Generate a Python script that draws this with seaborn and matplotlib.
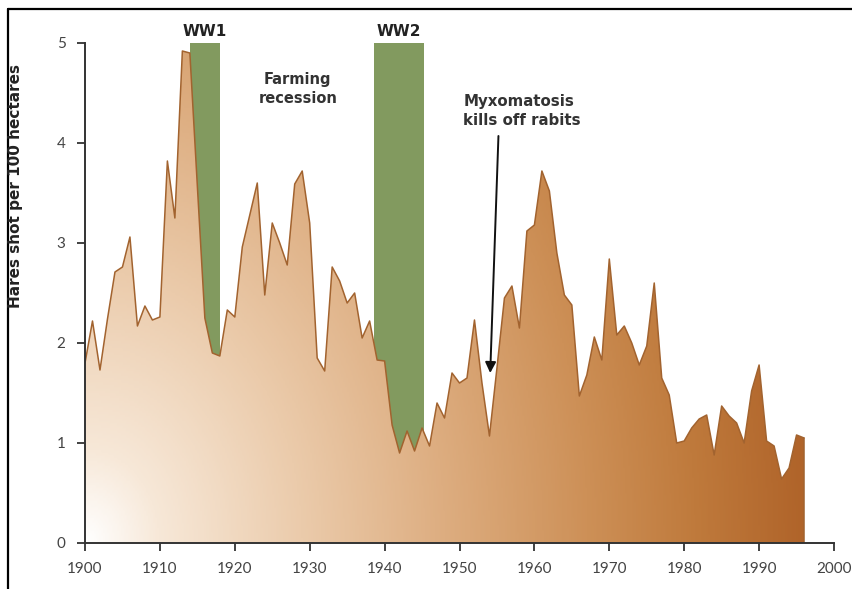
import matplotlib
matplotlib.use("Agg")
import matplotlib.pyplot as plt
from matplotlib.colors import LinearSegmentedColormap
from matplotlib.lines import Line2D
import seaborn as sns
import numpy as np
import pandas as pd

# Hares shot per 100 hectares, 1900-1996
years = list(range(1900, 1997))
hares = [1.80, 2.22, 1.73, 2.24, 2.71, 2.76, 3.06, 2.17, 2.37, 2.23,
         2.26, 3.82, 3.25, 4.92, 4.90, 3.57, 2.25, 1.90, 1.87, 2.33,
         2.26, 2.96, 3.28, 3.60, 2.48, 3.20, 3.00, 2.78, 3.59, 3.72,
         3.20, 1.85, 1.72, 2.76, 2.62, 2.40, 2.50, 2.05, 2.22, 1.83,
         1.82, 1.18, 0.90, 1.12, 0.92, 1.15, 0.97, 1.40, 1.25, 1.70,
         1.60, 1.65, 2.23, 1.60, 1.07, 1.75, 2.45, 2.57, 2.15, 3.12,
         3.18, 3.72, 3.52, 2.90, 2.48, 2.38, 1.47, 1.68, 2.06, 1.83,
         2.84, 2.08, 2.17, 2.00, 1.78, 1.97, 2.60, 1.65, 1.48, 1.00,
         1.02, 1.15, 1.24, 1.28, 0.88, 1.37, 1.27, 1.20, 1.00, 1.52,
         1.78, 1.02, 0.97, 0.64, 0.75, 1.08, 1.05]

war_labels = ['WW1', 'WW2']
war_start = [1914, 1938.6]
war_end = [1918, 1945.2]

x_ticks = list(range(1900, 2001, 10))
y_ticks = [0, 1, 2, 3, 4, 5]

df = pd.DataFrame({'year': years, 'hares': hares})

sns.set_theme(style='ticks')
plt.rcParams['font.family'] = ['Lato', 'DejaVu Sans']
bold_font = ['DejaVu Sans']

fig = plt.figure(figsize=(8.52, 5.89), dpi=100)
ax = fig.add_axes([85 / 852, 1 - 543 / 589, (834 - 85) / 852, 500 / 589])

# war periods behind the data
for lab, s, e in zip(war_labels, war_start, war_end):
    ax.axvspan(s, e, ymin=0, ymax=1, color='#829a5f', lw=0, zorder=1)
    ax.text((s + e) / 2, 5.04, lab, ha='center', va='bottom', family=bold_font,
            fontsize=11, fontweight='bold', color='#222222')

# gradient-filled area
poly = ax.fill_between(df['year'], df['hares'], 0, color='none', lw=0)
gx = np.linspace(0, 1, 400)
gy = np.linspace(0, 1, 200)
GX, GY = np.meshgrid(gx, gy)
dist = np.clip(np.sqrt(GX ** 2 + (GY * 0.55) ** 2), 0, 1)
cmap = LinearSegmentedColormap.from_list('hare', [
    (0.0, '#ffffff'), (0.1, '#f7e8d8'), (0.3, '#ebcbab'),
    (0.5, '#ddad80'), (0.7, '#cd9057'), (0.85, '#bf7a3c'), (1.0, '#b0642a')])
im = ax.imshow(dist, cmap=cmap, origin='lower', aspect='auto',
               extent=[years[0], years[-1], 0, 5], zorder=2, vmin=0, vmax=1)
im.set_clip_path(poly.get_paths()[0], transform=ax.transData)

sns.lineplot(data=df, x='year', y='hares', ax=ax, color='#a2632f', lw=1.1, zorder=3)
ax.plot([years[-1], years[-1]], [hares[-1], 0], color='#a2632f', lw=1.1, zorder=3)

ax.text(1928.4, 4.54, 'Farming\nrecession', ha='center', va='center', family=bold_font,
        fontsize=10.5, fontweight='bold', color='#333333', linespacing=1.35)
ax.text(1950.5, 4.32, 'Myxomatosis\nkills off rabits', ha='left', va='center',
        family=bold_font, fontsize=10.8, fontweight='bold', color='#333333',
        linespacing=1.35)
ax.annotate('', xy=(1954.1, 1.70), xytext=(1955.2, 4.07),
            arrowprops=dict(arrowstyle='-|>', color='#111111', lw=1.4,
                            mutation_scale=16, shrinkA=0, shrinkB=0), zorder=4)

ax.set_xlim(1900, 2000)
ax.set_ylim(0, 5)
ax.set_xticks(x_ticks)
ax.set_yticks(y_ticks)
ax.set_xlabel('')
ax.set_ylabel('')
ax.tick_params(axis='both', length=6, width=1.3, color='#333333',
               labelsize=11, labelcolor='#444444')
ax.tick_params(axis='y', pad=8)
ax.tick_params(axis='x', pad=8)
for side in ['top', 'right']:
    ax.spines[side].set_visible(False)
for side in ['left', 'bottom']:
    ax.spines[side].set_color('#333333')
    ax.spines[side].set_linewidth(1.4)
    ax.spines[side].set_zorder(5)

fig.text(16 / 852, 1 - 186 / 589, 'Hares shot per 100 hectares', rotation=90,
         ha='center', va='center', family=bold_font, fontsize=11,
         fontweight='bold', color='#222222')

# partial frame around the picture
fig.add_artist(Line2D([8 / 852, 1], [1 - 9 / 589, 1 - 9 / 589],
                      transform=fig.transFigure, color='black', lw=1.6))
fig.add_artist(Line2D([8 / 852, 8 / 852], [0, 1 - 9 / 589],
                      transform=fig.transFigure, color='black', lw=1.6))

fig.savefig('out.png', dpi=100)
